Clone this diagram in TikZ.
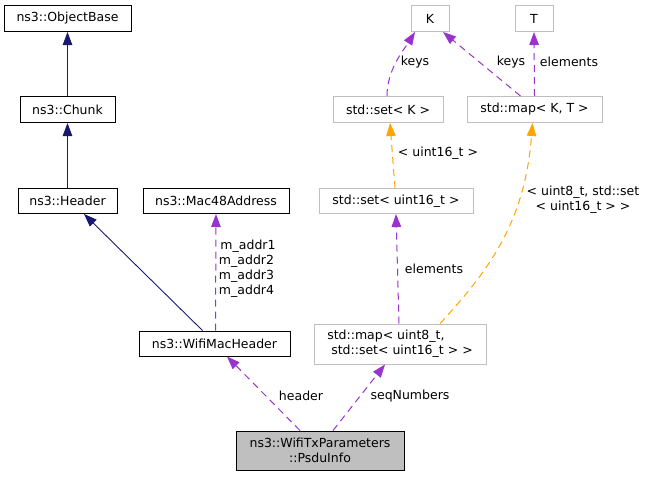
\documentclass[tikz,border=0pt]{standalone}
\usepackage{fontspec}
\setmainfont{DejaVu Sans}
\usetikzlibrary{arrows.meta,calc}
\definecolor{navyedge}{HTML}{191970}
\definecolor{purpleedge}{HTML}{9A32CD}
\definecolor{orangeedge}{HTML}{FFA500}
\definecolor{greybox}{HTML}{BFBFBF}
\begin{document}
\begin{tikzpicture}[x=1pt,y=-1pt,
  every node/.style={font=\fontsize{12.5}{15}\selectfont},
  box/.style={draw=black,line width=1pt,inner sep=0pt,rectangle},
  gbox/.style={draw=greybox,line width=1pt,inner sep=0pt,rectangle},
  tip/.style={-{Triangle[length=13pt,width=9.5pt]}},
  inh/.style={tip,draw=navyedge,fill=none,line width=0.9pt,arrows={-{Triangle[length=13pt,width=9.5pt,fill=navyedge]}}},
  use/.style={draw=purpleedge,line width=1pt,dash pattern=on 7pt off 5pt,arrows={-{Triangle[length=13pt,width=9.5pt,fill=purpleedge]}}},
  tmpl/.style={draw=orangeedge,line width=1pt,dash pattern=on 7pt off 5pt,arrows={-{Triangle[length=13pt,width=9.5pt,fill=orangeedge]}}},
  lbl/.style={inner sep=0pt,align=center}
]
\useasboundingbox (0,0) rectangle (648,477);

% nodes
\node[box,minimum width=127,minimum height=26] (ob) at (67.5,18.5) {ns3::ObjectBase};
\node[box,minimum width=95,minimum height=26] (chunk) at (67.5,109.5) {ns3::Chunk};
\node[box,minimum width=99,minimum height=25] (header) at (67.5,201) {ns3::Header};
\node[box,minimum width=146,minimum height=25] (mac) at (216,201) {ns3::Mac48Address};
\node[gbox,minimum width=38,minimum height=26] (K) at (430,18.5) {K};
\node[gbox,minimum width=38,minimum height=26] (T) at (534,18.5) {T};
\node[gbox,minimum width=110,minimum height=26] (setK) at (388,109.5) {std::set< K >};
\node[gbox,minimum width=135,minimum height=26] (mapKT) at (534.5,109.5) {std::map< K, T >};
\node[gbox,minimum width=154,minimum height=25] (set16) at (396,201) {std::set< uint16\_t >};
\node[box,minimum width=151,minimum height=25] (wmh) at (214.5,343.5) {ns3::WifiMacHeader};
\node[gbox,minimum width=172,minimum height=40,align=left] (map8) at (400,344) {std::map< uint8\_t,\\\hspace*{4pt}std::set< uint16\_t > >};
\node[box,fill=greybox,minimum width=168,minimum height=39,align=center] (psdu) at (320,450.5) {ns3::WifiTxParameters\\::PsduInfo};

% edges
\draw[inh] (chunk) -- (ob);
\draw[inh] (header) -- (chunk);
\draw[inh] ([xshift=-12pt]wmh.north) -- ([xshift=16.5pt]header.south);
\draw[use] ([xshift=1pt]wmh.north) -- (mac.south);
\draw[use] ([xshift=-20pt]psdu.north) -- ([xshift=12.5pt]wmh.south);
\draw[use] ([xshift=13pt]psdu.north) -- ([xshift=-15pt]map8.south);
\draw[use] ([xshift=-1pt]map8.north) -- (set16.south);
\draw[tmpl] ([xshift=40pt]map8.north) .. controls +(50,-54) and +(-7.5,98) .. ([xshift=-2pt]mapKT.south);
\draw[tmpl] ([xshift=-1pt]set16.north) -- ([xshift=2pt]setK.south);
\draw[use] ([xshift=-1pt]setK.north) .. controls +(0,-26) and +(-12,19) .. ([xshift=-15pt]K.south);
\draw[use] ([xshift=-14pt]mapKT.north) -- ([xshift=13pt]K.south);
\draw[use] (mapKT.north) -- (T.south);

% labels
\node[lbl] (l1) at (415,62) {keys};
\node[lbl] (l2) at (511,62) {keys};
\node[lbl] (l3) at (569,62) {elements};
\node[lbl] (l4) at (438,153) {< uint16\_t >};
\node[lbl] (l5) at (583,199.5) {< uint8\_t, std::set\\< uint16\_t > >};
\node[lbl] (l6) at (434,268.5) {elements};
\node[lbl] (l7) at (246.5,268.5) {\hspace*{3pt}m\_addr1\\m\_addr2\\m\_addr3\\m\_addr4};
\node[lbl] (l8) at (301,396) {header};
\node[lbl] (l9) at (410,396) {seqNumbers};
\end{tikzpicture}
\end{document}
